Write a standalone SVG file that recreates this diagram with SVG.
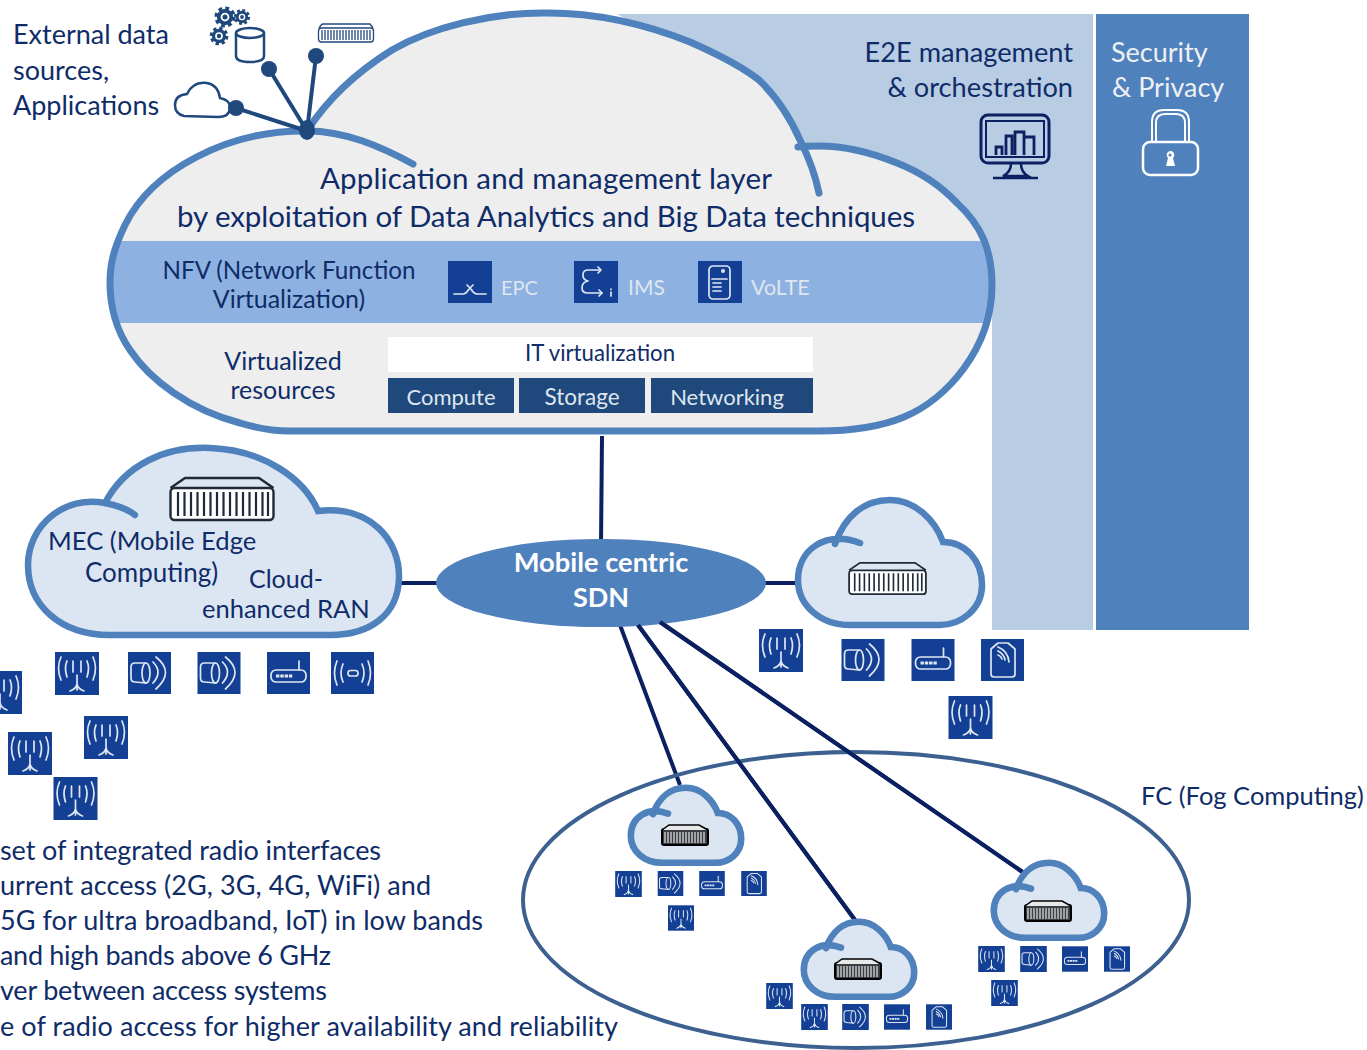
<svg xmlns="http://www.w3.org/2000/svg" width="1367" height="1050" viewBox="0 0 1367 1050">
<style>
text{font-family:"Lato","Carlito","Liberation Sans",sans-serif;fill:#0f2c68;font-size:27px}
.w{fill:#eef0f4}
.l{fill:#dfe6ee}
.m{text-anchor:middle}
.e{text-anchor:end}
.ic{fill:none;stroke:#dfe6f2;stroke-width:1.700;stroke-linecap:round;stroke-linejoin:round}
.bg{fill:#134094}
.link{fill:none;stroke:#0a2060;stroke-width:4}
.pin{stroke:#1f497d;stroke-width:4;fill:none}
.dot{fill:#1f497d}
.cl{fill:#dce6f2;stroke:#4f81bd;stroke-width:11;stroke-linecap:round}
</style>
<defs>
<symbol id="ant" viewBox="0 0 44 43"><rect class="bg" width="44" height="43"/><g class="ic"><path d="M22 23V38M22 32Q21 37 15 39M22 32Q23 37 29 39"/><path d="M18 9V20M26 9V20M12 9Q9 16 12 25M32 9Q35 16 32 25M6 5Q1 16 6 28M38 5Q43 16 38 28"/></g></symbol>
<symbol id="mic" viewBox="0 0 43 42"><rect class="bg" width="43" height="42"/><g class="ic"><path d="M17 11H7Q3 11 3 15V26Q3 30 7 30L18 31"/><ellipse cx="18" cy="21" rx="4" ry="10"/><path d="M25 10Q35 20 25 31M28 5Q47 20 28 37"/></g></symbol>
<symbol id="rtr" viewBox="0 0 43 42"><rect class="bg" width="43" height="42"/><g class="ic"><rect x="4" y="18" width="35" height="12" rx="5"/><path d="M32 18V9"/><path d="M9 24H26" stroke-width="3" stroke-dasharray="3.400 .9" stroke-linecap="butt"/></g></symbol>
<symbol id="rad" viewBox="0 0 43 42"><rect class="bg" width="43" height="42"/><g class="ic"><rect x="17" y="18.500" width="10" height="5.500" rx="2.500"/><path d="M12 12Q8 21 12 30M31 12Q35 21 31 30M6 9Q1 21 6 33M37 9Q42 21 37 33"/></g></symbol>
<symbol id="tag" viewBox="0 0 43 42"><rect class="bg" width="43" height="42"/><g class="ic"><path d="M10 10L17 4H27L34 10V35Q34 38 31 38H13Q10 38 10 35Z"/><path d="M17 8Q27 12 28 23M17 12Q23 15 24 21M17 16Q20 17 21 20"/></g></symbol>
<symbol id="srv" viewBox="0 0 106 46"><g fill="none" stroke="#1f2a38" stroke-width="2.400"><rect x="1.500" y="12" width="103" height="32" rx="4" fill="#fff"/><path d="M1.500 12L16 2H90L104.500 12"/><path d="M9 16V40M15.500 16V40M22 16V40M28.500 16V40M35 16V40M41.500 16V40M48 16V40M54.500 16V40M61 16V40M67.500 16V40M74 16V40M80.500 16V40M87 16V40M93.500 16V40M99 16V40" stroke-width="2.200"/></g></symbol>
<symbol id="srvd" viewBox="0 0 48 22" preserveAspectRatio="none"><rect x="1" y="5" width="46" height="16" rx="2" fill="#3a3f46" stroke="#000" stroke-width="2"/><path d="M1 6L8 1H38L47 6" fill="#e8e8e8" stroke="#000" stroke-width="1.500"/><path d="M4 8V19M7 8V19M10 8V19M13 8V19M16 8V19M19 8V19M22 8V19M25 8V19M28 8V19M31 8V19M34 8V19M37 8V19M40 8V19M43 8V19" stroke="#d8d8d8" stroke-width="1.300"/></symbol>
<path id="cloudshape" d="M835 544C845 515 865 500 890 500C915 500 935 520 943 542C965 542 982 560 982 585C982 610 960 625 940 625H850C820 625 798 605 798 580C798 550 825 530 860 543"/>
<g id="gear"><circle r="5" fill="none" stroke="#1f497d" stroke-width="3"/><circle r="7" fill="none" stroke="#1f497d" stroke-width="3" stroke-dasharray="3 2.500"/><circle r="2" fill="#1f497d"/></g>
<path id="lower" d="M413 164C380 146 345 131 307 131C228 130 152 170 125 225C113 250 110 265 110 283C110 305 116 330 130 350C150 380 190 410 240 423C260 429 275 431 289 431L818 431C850 431 880 427 904 417C945 400 992 350 992 285C992 270 990 255 984 240C978 226 968 213 957 203C940 185 920 172 897 163C870 152 845 146 819 146C812 146 805 146 798 147"/>
<path id="upper" d="M307 131C330 95 360 70 392 50C430 28 490 12 548 13C590 13 640 22 690 42C715 53 740 65 759 80C780 100 792 122 800 140C810 160 816 178 819 193"/>
<clipPath id="bigclip"><use href="#lower"/></clipPath>
</defs>

<g id="panels">
<path d="M617 14H1093V630H992V300H800L700 60Z" fill="#b8cce4"/>
<rect x="1096" y="14" width="153" height="616" fill="#4f81bd"/>
</g>

<g id="e2e">
<text class="e" x="1073" y="62" style="font-size:27.200px">E2E management</text>
<text class="e" x="1073" y="97" style="font-size:27.200px">&amp; orchestration</text>
<g fill="none" stroke="#0a2060" stroke-width="3"><rect x="981" y="115" width="68" height="48" rx="7"/><rect x="986" y="121" width="58" height="36" stroke-width="2"/><path d="M996 155V147H1002V155M1006 155V136H1012V155M1015 155V132H1024V155M1024 155V137H1034V155" stroke-width="2.800"/><path d="M1011 164Q1011 172 1003 176H1028Q1021 172 1021 164M993 178H1038" stroke-width="2.500"/></g>
</g>

<g id="security">
<text x="1111" y="62" class="w">Security</text>
<text x="1112" y="97" class="w">&amp; Privacy</text>
<g fill="none" stroke="#fff" stroke-width="2"><rect x="1143" y="142" width="55" height="33" rx="7" stroke-width="2.500"/><path d="M1152 142V122Q1152 110 1164 110H1177Q1189 110 1189 122V142M1156 142V123Q1156 114 1165 114H1176Q1185 114 1185 123V142"/></g>
<path d="M1170 151a4 4 0 0 1 3 7l2 8h-9l2-8a4 4 0 0 1 2-7z" fill="#fff"/><circle cx="1170" cy="155" r="1.500" fill="#4f81bd"/>
</g>

<g id="external">
<text x="13" y="44">External data</text>
<text x="13" y="80">sources,</text>
<text x="13" y="115">Applications</text>
<path d="M184 116Q175 114 175 105Q175 95 187 94Q193 81 207 83Q218 85 220 98Q230 100 230 107Q230 117 218 117Z" fill="#fff" stroke="#1f497d" stroke-width="2.500"/>
<g fill="none" stroke="#1f497d" stroke-width="2.500"><path d="M236 33V56Q236 62 250 62Q264 62 264 56V33"/><ellipse cx="250" cy="33" rx="14" ry="5"/></g>
<use href="#gear" transform="translate(225 17) scale(1.250)"/><use href="#gear" transform="translate(242 17) scale(.95)"/><use href="#gear" transform="translate(219 36) scale(1.100)"/>
<g fill="none" stroke="#1f497d" stroke-width="1.300"><rect x="318.500" y="28" width="55" height="14" rx="3"/><path d="M322 24H370L373 28M322 24L319 28"/><path d="M322 30V40M325 30V40M328 30V40M331 30V40M334 30V40M337 30V40M340 30V40M343 30V40M346 30V40M349 30V40M352 30V40M355 30V40M358 30V40M361 30V40M364 30V40M367 30V40M370 30V40"/></g>
</g>

<g id="app-cloud">
<use href="#upper" fill="#eeeeee"/>
<path d="M307 131L413 164L819 193L800 140Z" fill="#eeeeee"/>
<use href="#lower" fill="#eeeeee"/>
<rect x="100" y="241" width="900" height="82" fill="#8db2e2" clip-path="url(#bigclip)"/>
<g fill="none" stroke="#4f81bd" stroke-width="7" stroke-linecap="round">
<use href="#lower"/>
<use href="#upper"/>
</g>
<text class="m" x="546" y="189" style="font-size:29.500px" textLength="452">Application and management layer</text>
<text class="m" x="546" y="227" style="font-size:29.500px" textLength="738">by exploitation of Data Analytics and Big Data techniques</text>
<text class="m" x="289" y="279" style="font-size:24.200px">NFV (Network Function</text>
<text class="m" x="289" y="308" style="font-size:25px">Virtualization)</text>
<svg x="448" y="261" width="44" height="42" viewBox="0 0 44 42"><rect class="bg" width="44" height="42"/><path class="ic" d="M6 33H15Q18 33 21 28L25 24M38 33H29Q26 33 23 28L19 24"/></svg>
<text class="l" x="501" y="295" style="font-size:20px">EPC</text>
<svg x="574" y="261" width="44" height="42" viewBox="0 0 44 42"><rect class="bg" width="44" height="42"/><path class="ic" d="M26 9H14Q9 9 9 14Q9 19 14 20Q8 21 8 27Q8 32 14 32H28"/><path d="M24 6L27 9L24 12M25 29L28 32L25 35" class="ic"/><path class="ic" d="M37 31V35M37 28V28.500"/></svg>
<text class="l" x="628" y="295" style="font-size:21px">IMS</text>
<svg x="698" y="261" width="44" height="42" viewBox="0 0 44 42"><rect class="bg" width="44" height="42"/><g class="ic"><rect x="11" y="5" width="21" height="33" rx="4"/><path d="M14 18H29M15 22H23M15 26H23M15 30H23"/></g><circle cx="25" cy="10" r="2" fill="#dfe6f2"/></svg>
<text class="l" x="751" y="295" style="font-size:21.400px">VoLTE</text>
<text class="m" x="283" y="370" style="font-size:25px">Virtualized</text>
<text class="m" x="283" y="399" style="font-size:25px">resources</text>
<rect x="388" y="337" width="425" height="35" fill="#fff"/>
<text class="m" x="600" y="361" style="font-size:22.200px">IT virtualization</text>
<g fill="#1f497d"><rect x="388" y="378" width="126" height="35"/><rect x="519" y="378" width="126" height="35"/><rect x="651" y="378" width="162" height="35"/></g>
<text class="m l" x="451" y="405" style="font-size:22px">Compute</text><text class="m l" x="582" y="405" style="font-size:22.500px">Storage</text><text class="m l" x="727" y="405" style="font-size:22px">Networking</text>
</g>

<g id="connectors">
<path class="pin" d="M307 131L236 108M307 131L269 69M307 131L316 56"/>
<circle class="dot" cx="236" cy="108" r="8"/><circle class="dot" cx="269" cy="69" r="8"/><circle class="dot" cx="316" cy="56" r="8"/>
<ellipse class="dot" cx="307" cy="130" rx="8" ry="10"/>
<path class="link" d="M602 436L601 545M400 583H440M762 583H798M620 625L680 785M638 625L855 920M660 622L1024 873"/>
</g>

<g id="mec">
<path d="M105 503C125 465 165 446 210 448C265 450 305 480 318 511C370 505 400 540 399 578C398 615 370 635 330 635H110C60 635 28 605 28 565C28 525 65 495 105 503Z" fill="#dce6f2"/>
<path d="M105 503C125 465 165 446 210 448C265 450 305 480 318 511C370 505 400 540 399 578C398 615 370 635 330 635H110C60 635 28 605 28 565C28 525 65 495 105 503Q125 507 135 515" fill="none" stroke="#4f81bd" stroke-width="6.500" stroke-linecap="round"/>
<use href="#srv" x="169" y="476" width="106" height="46"/>
<text x="48" y="550" style="font-size:25.600px">MEC (Mobile Edge</text>
<text x="85" y="582" style="font-size:26px">Computing)</text>
<text x="249" y="588" style="font-size:25px">Cloud-</text>
<text x="202" y="618" style="font-size:25.500px">enhanced RAN</text>
</g>

<g id="sdn">
<ellipse cx="601" cy="583" rx="165" ry="44" fill="#4f81bd"/>
<text class="m" x="601" y="572" style="fill:#fff;font-weight:700;font-size:27.300px">Mobile centric</text>
<text class="m" x="601" y="607" style="fill:#fff;font-weight:700">SDN</text>
</g>

<g id="cloud-right">
<use href="#cloudshape" class="cl" style="stroke-width:6.500"/>
<use href="#srv" x="848" y="561" width="79" height="35"/>
</g>

<g id="access-left">
<use href="#ant" x="-22" y="671" width="44" height="43"/>
<use href="#ant" x="55" y="652" width="44" height="43"/>
<use href="#mic" x="128" y="652" width="43" height="42"/>
<use href="#mic" x="197" y="652" width="44" height="42"/>
<use href="#rtr" x="267" y="652" width="43" height="42"/>
<use href="#rad" x="331" y="652" width="43" height="42"/>
<use href="#ant" x="84" y="716" width="44" height="43"/>
<use href="#ant" x="8" y="732" width="44" height="43"/>
<use href="#ant" x="53" y="777" width="45" height="43"/>
</g>

<g id="access-right">
<use href="#ant" x="759" y="629" width="44" height="43"/>
<use href="#mic" x="841" y="639" width="44" height="42"/>
<use href="#rtr" x="911" y="639" width="44" height="42"/>
<use href="#tag" x="981" y="639" width="43" height="42"/>
<use href="#ant" x="948" y="696" width="45" height="43"/>
</g>

<g id="fog">
<ellipse cx="856" cy="900" rx="333" ry="148" fill="none" stroke="#3c6190" stroke-width="4"/>
<path class="link" d="M638 625L855 920M660 622L1024 873"/>
<text x="1141" y="805" style="font-size:25.500px">FC (Fog Computing)</text>
</g>

<g id="fog-1">
<use href="#cloudshape" class="cl" transform="translate(686 825) scale(.6) translate(-890 -562)"/>
<use href="#srvd" x="661" y="824" width="48" height="22"/>
<use href="#ant" x="615" y="871" width="27" height="26"/><use href="#mic" x="657" y="871" width="27" height="25"/><use href="#rtr" x="699" y="871" width="26" height="25"/><use href="#tag" x="741" y="871" width="26" height="25"/><use href="#ant" x="668" y="905" width="26" height="26"/>
</g>
<g id="fog-2">
<use href="#cloudshape" class="cl" transform="translate(859 959) scale(.6) translate(-890 -562)"/>
<use href="#srvd" x="834" y="958" width="48" height="22"/>
<use href="#ant" x="766" y="983" width="27" height="26"/><use href="#ant" x="801" y="1004" width="27" height="26"/><use href="#mic" x="842" y="1004" width="27" height="26"/><use href="#rtr" x="884" y="1004" width="26" height="26"/><use href="#tag" x="926" y="1004" width="26" height="26"/>
</g>
<g id="fog-3">
<use href="#cloudshape" class="cl" transform="translate(1049 900) scale(.6) translate(-890 -562)"/>
<use href="#srvd" x="1024" y="900" width="48" height="22"/>
<use href="#ant" x="978" y="946" width="27" height="26"/><use href="#mic" x="1020" y="946" width="27" height="26"/><use href="#rtr" x="1062" y="946" width="26" height="26"/><use href="#tag" x="1104" y="946" width="26" height="26"/><use href="#ant" x="991" y="980" width="27" height="26"/>
</g>

<g id="notes">
<text x="0" y="860" textLength="381">set of integrated radio interfaces</text>
<text x="0" y="895" textLength="431">urrent access (2G, 3G, 4G, WiFi) and</text>
<text x="0" y="930" textLength="483">5G for ultra broadband, IoT) in low bands</text>
<text x="0" y="965" textLength="331">and high bands above 6 GHz</text>
<text x="0" y="1000" textLength="327">ver between access systems</text>
<text x="0" y="1036" textLength="618">e of radio access for higher availability and reliability</text>
</g>
</svg>
